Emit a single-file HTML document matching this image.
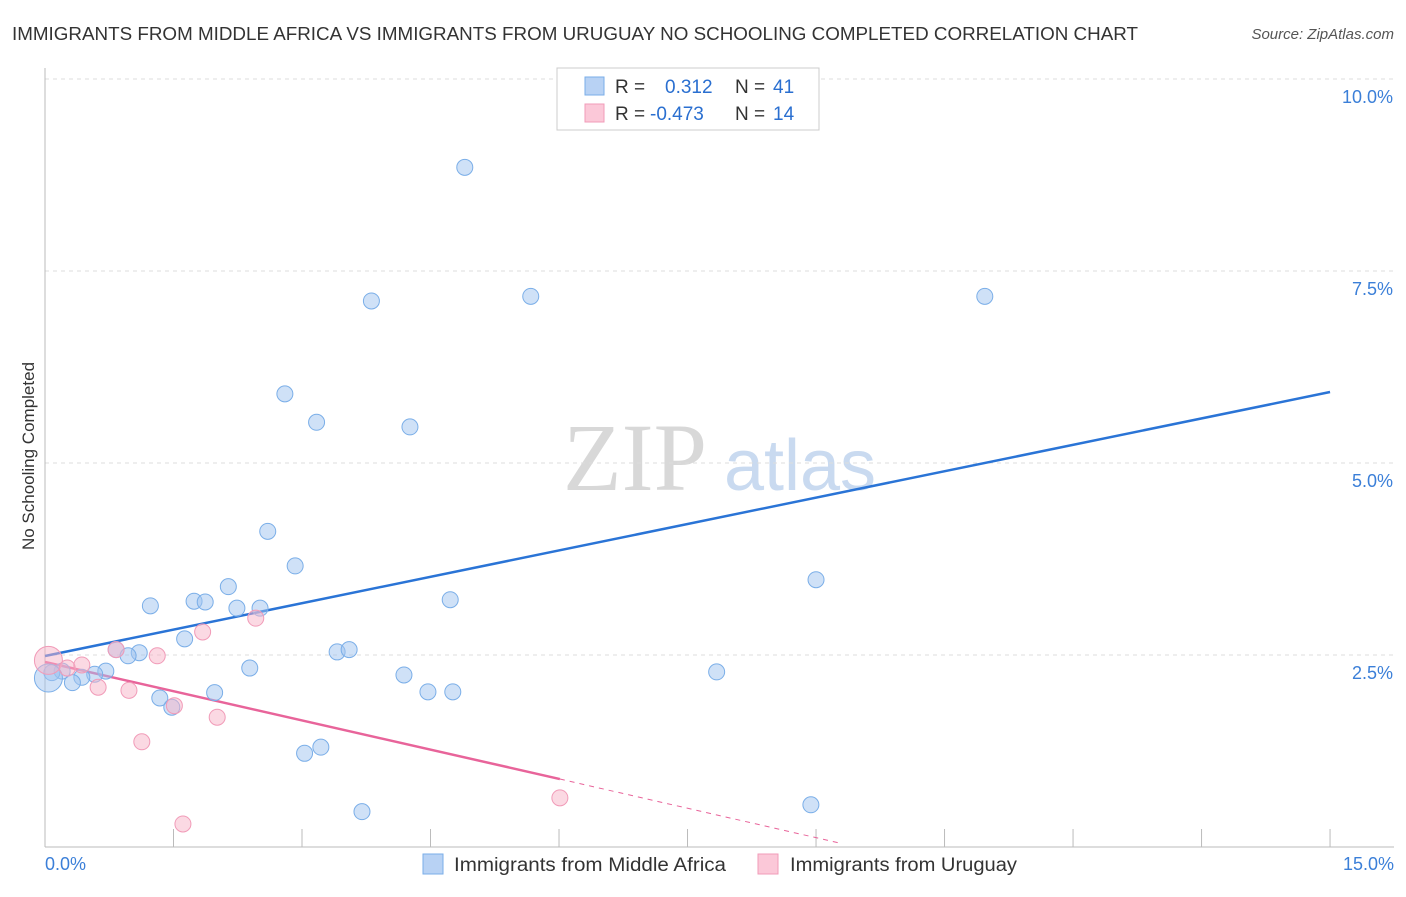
<!DOCTYPE html>
<html><head><meta charset="utf-8"><style>
body{margin:0;background:#fff;font-family:"Liberation Sans",sans-serif;}
</style></head><body>
<svg id="chart" width="1406" height="892" xmlns="http://www.w3.org/2000/svg" style="font-family:'Liberation Sans',sans-serif">
<text x="12" y="40" font-size="18" fill="#333" textLength="1126" lengthAdjust="spacingAndGlyphs">IMMIGRANTS FROM MIDDLE AFRICA VS IMMIGRANTS FROM URUGUAY NO SCHOOLING COMPLETED CORRELATION CHART</text>
<text x="1394" y="39" font-size="15" fill="#555" text-anchor="end" font-style="italic">Source: ZipAtlas.com</text>
<text transform="translate(34,456) rotate(-90)" font-size="17" fill="#333" text-anchor="middle">No Schooling Completed</text>
<g><text x="635" y="490" font-size="96" style="font-family:'Liberation Serif',serif" fill="#d8d8d8" text-anchor="middle">ZIP</text><text x="800" y="490" font-size="72" fill="#c9daf0" text-anchor="middle">atlas</text></g>
<g id="grid"></g><g id="axes"></g><g id="lines"></g><g id="points"></g>
<g>
<rect x="557" y="68" width="262" height="62" fill="#fff" stroke="#ccc"/>
<rect x="585" y="77" width="19" height="18" fill="#b8d2f4" stroke="#7aaee8"/>
<text x="615" y="93" font-size="19" fill="#333">R =</text><text x="665" y="93" font-size="19" fill="#2a6fd0">0.312</text>
<text x="735" y="93" font-size="19" fill="#333">N =</text><text x="773" y="93" font-size="19" fill="#2a6fd0">41</text>
<rect x="585" y="104" width="19" height="18" fill="#fbc8d8" stroke="#f19bb8"/>
<text x="615" y="120" font-size="19" fill="#333">R =</text><text x="650" y="120" font-size="19" fill="#2a6fd0">-0.473</text>
<text x="735" y="120" font-size="19" fill="#333">N =</text><text x="773" y="120" font-size="19" fill="#2a6fd0">14</text>
</g>
<g>
<rect x="423" y="854" width="20" height="20" fill="#b8d2f4" stroke="#7aaee8"/>
<text x="454" y="871" font-size="19" fill="#333" textLength="272" lengthAdjust="spacingAndGlyphs">Immigrants from Middle Africa</text>
<rect x="758" y="854" width="20" height="20" fill="#fbc8d8" stroke="#f19bb8"/>
<text x="790" y="871" font-size="19" fill="#333" textLength="227" lengthAdjust="spacingAndGlyphs">Immigrants from Uruguay</text>
</g>
</svg>
<script>
const blueX=[4.90,3.81,5.67,10.97,2.80,3.17,4.26,2.60,2.92,2.14,1.23,1.74,1.87,2.24,2.51,4.73,9.00,1.63,0.83,1.10,0.97,3.41,3.55,2.39,4.19,7.84,0.71,0.58,0.43,0.20,0.32,0.08,0.04,1.34,1.48,1.98,4.47,4.76,3.03,3.22,3.70,8.94];
const blueY=[8.85,7.11,7.17,7.17,5.90,5.53,5.47,4.11,3.66,3.39,3.14,3.20,3.19,3.11,3.11,3.22,3.48,2.71,2.57,2.53,2.49,2.54,2.57,2.33,2.24,2.28,2.29,2.25,2.21,2.29,2.14,2.27,2.20,1.94,1.82,2.01,2.02,2.02,1.22,1.30,0.46,0.55];
const pinkX=[0.04,0.26,0.43,0.62,0.98,1.31,0.83,1.84,2.46,1.13,1.51,2.01,1.61,6.01];
const pinkY=[2.43,2.33,2.37,2.08,2.04,2.49,2.57,2.80,2.98,1.37,1.84,1.69,0.30,0.64];
const blueLineX=[0,15];const blueLineY=[2.487,5.924];
const pinkLineX=[0,6.01,9.28];const pinkLineY=[2.409,0.885,0.05];
const xTicks=[0,1.5,3,4.5,6,7.5,9,10.5,12,13.5,15];
const yTicks=[2.5,5,7.5,10];const yLabels=["2.5%","5.0%","7.5%","10.0%"];
const NS="http://www.w3.org/2000/svg";
const sx=v=>45+v*85.67, sy=v=>847-v*76.8;
function mk(parent,tag,attrs){const e=document.createElementNS(NS,tag);for(const k in attrs)e.setAttribute(k,attrs[k]);document.getElementById(parent).appendChild(e);return e;}
yTicks.forEach((t,i)=>{
 const g=mk('grid','line',{x1:45,x2:1394,y1:sy(t),y2:sy(t),stroke:'#ddd','stroke-dasharray':'4,4'});
 
 
 const l=mk('axes','text',{x:1393,y:sy(t)+24,'font-size':18,fill:'#3b7fd8','text-anchor':'end'});l.textContent=yLabels[i];
 
 
});
const ax=mk('axes','line',{x1:45,x2:1394,y1:847,y2:847,stroke:'#bbb'});


const ay=mk('axes','line',{x1:45,x2:45,y1:68,y2:847,stroke:'#bbb'});


xTicks.forEach(t=>{const e=mk('axes','line',{x1:sx(t),x2:sx(t),y1:829,y2:847,stroke:'#bbb'});
 
 });
const x0=mk('axes','text',{x:45,y:870,'font-size':18,fill:'#3b7fd8'});x0.textContent='0.0%';


const x1=mk('axes','text',{x:1394,y:870,'font-size':18,fill:'#3b7fd8','text-anchor':'end'});x1.textContent='15.0%';


blueX.forEach((v,i)=>{const c=mk('points','circle',{cx:sx(v),cy:sy(blueY[i]),r:(i==32?14:8),fill:'rgba(160,196,240,0.5)',stroke:'#7aaee8','stroke-width':1});
 
 });
pinkX.forEach((v,i)=>{const c=mk('points','circle',{cx:sx(v),cy:sy(pinkY[i]),r:(i==0?14:8),fill:'rgba(248,180,200,0.5)',stroke:'#f19bb8','stroke-width':1});
 
 });
const bl=mk('lines','line',{x1:sx(blueLineX[0]),y1:sy(blueLineY[0]),x2:sx(blueLineX[1]),y2:sy(blueLineY[1]),stroke:'#2a74d6','stroke-width':2.5});


const pl=mk('lines','line',{x1:sx(pinkLineX[0]),y1:sy(pinkLineY[0]),x2:sx(pinkLineX[1]),y2:sy(pinkLineY[1]),stroke:'#e8649a','stroke-width':2.5});


const pd=mk('lines','line',{x1:sx(pinkLineX[1]),y1:sy(pinkLineY[1]),x2:sx(pinkLineX[2]),y2:sy(pinkLineY[2]),stroke:'#e8649a','stroke-width':1,'stroke-dasharray':'5,5'});


</script>
</body></html>
